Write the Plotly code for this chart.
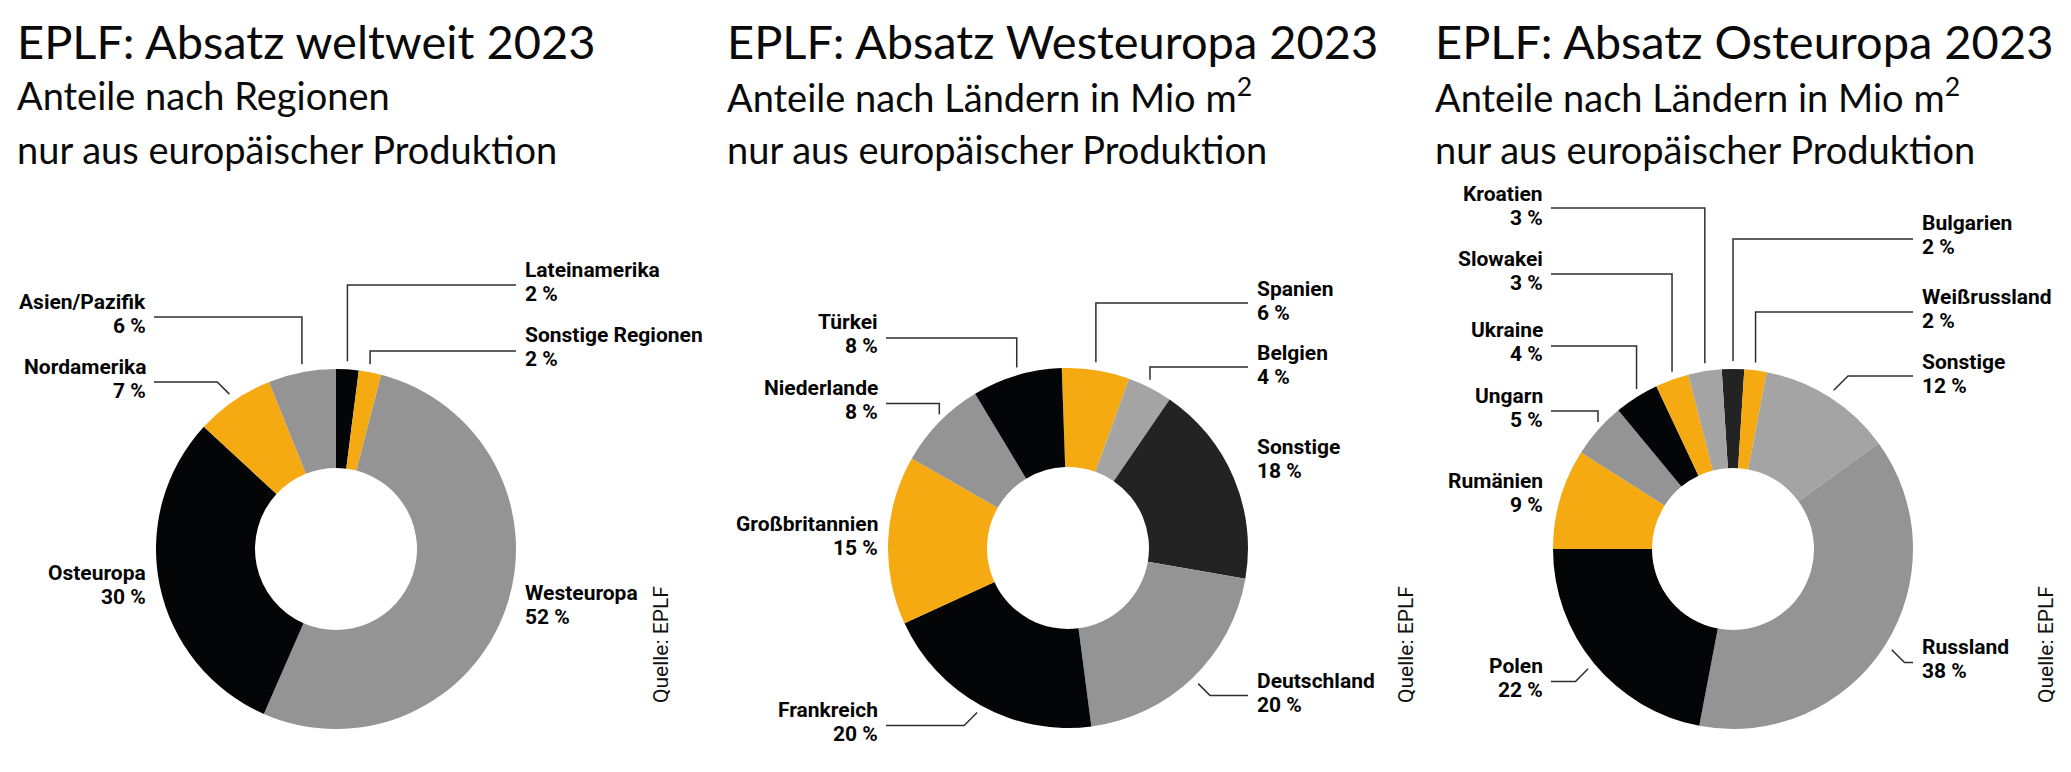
import math
import plotly.graph_objects as go

# page is drawn with the browser's default 8px body margin; compensate
PAGE_W, PAGE_H = 2071, 772
OFF = 8
W, H = PAGE_W - 2 * OFF, PAGE_H - 2 * OFF

# ---------------- data ----------------
world_labels = ["Lateinamerika", "Sonstige Regionen", "Westeuropa", "Osteuropa", "Nordamerika", "Asien/Pazifik"]
world_values = [2, 2, 52, 30, 7, 6]

west_labels = ["Spanien", "Belgien", "Sonstige", "Deutschland", "Frankreich", "Großbritannien", "Niederlande", "Türkei"]
west_values = [6, 4, 18, 20, 20, 15, 8, 8]

east_labels = ["Bulgarien", "Weißrussland", "Sonstige", "Russland", "Polen", "Rumänien", "Ungarn", "Ukraine", "Slowakei", "Kroatien"]
east_values = [2, 2, 12, 38, 22, 9, 5, 4, 3, 3]

titles = ["EPLF: Absatz weltweit 2023", "EPLF: Absatz Westeuropa 2023", "EPLF: Absatz Osteuropa 2023"]
subtitles_1 = ["Anteile nach Regionen", "Anteile nach Ländern in Mio m<sup>2</sup>", "Anteile nach Ländern in Mio m<sup>2</sup>"]
subtitle_2 = "nur aus europäischer Produktion"
source_text = "Quelle: EPLF"

# ---------------- styles ----------------
ORANGE = "#F5AA12"
BLACK = "#040507"
GRAY = "#949494"
LIGHT = "#A4A4A4"
CHAR = "#232323"
LINE = "#2e2e2e"

world_colors = [BLACK, ORANGE, GRAY, BLACK, ORANGE, GRAY]
west_colors = [ORANGE, LIGHT, CHAR, GRAY, BLACK, ORANGE, GRAY, BLACK]
east_colors = [CHAR, ORANGE, LIGHT, GRAY, BLACK, ORANGE, GRAY, BLACK, ORANGE, LIGHT]

TITLE_FONT = "Lato, 'Open Sans', sans-serif"
LABEL_FONT = "Roboto, 'Liberation Sans', sans-serif"

R = 180.0
HOLE = 0.45

# label layout: side, first-line baseline, leader y, leader kind
world_layout = {
    "Lateinamerika": ("R", 278, 285, "v"),
    "Sonstige Regionen": ("R", 343, 351, "v"),
    "Westeuropa": ("R", 601, None, None),
    "Osteuropa": ("L", 581, None, None),
    "Nordamerika": ("L", 375, 382, "d"),
    "Asien/Pazifik": ("L", 310, 317, "v"),
}
west_layout = {
    "Spanien": ("R", 297, 303, "v"),
    "Belgien": ("R", 361, 367, "v"),
    "Sonstige": ("R", 455, None, None),
    "Deutschland": ("R", 689, 695.5, "d"),
    "Frankreich": ("L", 718, 725.5, "d"),
    "Großbritannien": ("L", 532, None, None),
    "Niederlande": ("L", 396, 403.5, "v"),
    "Türkei": ("L", 330, 338, "v"),
}
east_layout = {
    "Bulgarien": ("R", 231, 239, "v"),
    "Weißrussland": ("R", 305, 312, "v"),
    "Sonstige": ("R", 370, 376, "d"),
    "Russland": ("R", 655, 662.5, "d"),
    "Polen": ("L", 674, 681.5, "d"),
    "Rumänien": ("L", 489, None, None),
    "Ungarn": ("L", 404, 411, "v"),
    "Ukraine": ("L", 338, 346, "v"),
    "Slowakei": ("L", 267, 274, "v"),
    "Kroatien": ("L", 202, 208, "v"),
}

charts = [
    dict(labels=world_labels, values=world_values, colors=world_colors, layout=world_layout,
         cx=336, cy=549, rot=0.0, title_x=15, source_x=661),
    dict(labels=west_labels, values=west_values, colors=west_colors, layout=west_layout,
         cx=1068, cy=548, rot=-2.0, title_x=725, source_x=1406),
    dict(labels=east_labels, values=east_values, colors=east_colors, layout=east_layout,
         cx=1733, cy=549, rot=-3.6, title_x=1433, source_x=2046),
]

def px(x):
    return (x - OFF) / W

def py(y):
    return 1 - (y - OFF) / H

fig = go.Figure()
annotations = []
shapes = []

LABEL_SIZE = 21
LINE_GAP = 23.5

for i, c in enumerate(charts):
    cx, cy = c["cx"], c["cy"]
    fig.add_trace(go.Pie(
        labels=c["labels"], values=c["values"],
        marker=dict(colors=c["colors"], line=dict(width=0)),
        hole=HOLE, sort=False, direction="clockwise", rotation=c["rot"],
        textinfo="none", hoverinfo="label+percent", showlegend=False,
        domain=dict(x=[px(cx - R), px(cx + R)], y=[py(cy + R), py(cy - R)]),
        name=titles[i],
    ))

    # titles
    for text, base, size in [(titles[i], 58, 47), (subtitles_1[i], 109, 38), (subtitle_2, 163, 38)]:
        annotations.append(dict(
            text=text, x=px(c["title_x"]), y=py(base - 0.36 * size), xref="paper", yref="paper",
            xanchor="left", yanchor="middle", showarrow=False,
            font=dict(family=TITLE_FONT, size=size, color="#0a0a0a"),
        ))

    # source
    annotations.append(dict(
        text=source_text, x=px(c["source_x"]), y=py(645), xref="paper", yref="paper",
        xanchor="center", yanchor="middle", showarrow=False, textangle=-90,
        font=dict(family=LABEL_FONT, size=21, color="#111111"),
    ))

    total = float(sum(c["values"]))
    cum = 0.0
    for lab, val in zip(c["labels"], c["values"]):
        mid = math.radians(c["rot"] + (cum + val / 2.0) / total * 360.0)
        cum += val
        side, base, ly, kind = c["layout"][lab]
        if side == "R":
            tx, anchor = cx + 187, "left"
            lx0 = cx + 180
        else:
            tx, anchor = cx - 188, "right"
            lx0 = cx - 182
        for j, t in enumerate([lab, f"{val} %"]):
            b = base + j * LINE_GAP
            annotations.append(dict(
                text=f"<b>{t}</b>", x=px(tx), y=py(b - 0.36 * LABEL_SIZE),
                xref="paper", yref="paper", xanchor=anchor, yanchor="middle",
                showarrow=False, font=dict(family=LABEL_FONT, size=LABEL_SIZE, color="#050505"),
            ))
        if kind is None:
            continue
        if kind == "v":
            ex = cx + R * math.sin(mid)
            ey = cy - R * math.cos(mid) - 8
            path = f"M {px(lx0)},{py(ly)} L {px(ex)},{py(ly)} L {px(ex)},{py(ey)}"
        else:
            ex = cx + (R + 8) * math.sin(mid)
            ey = cy - (R + 8) * math.cos(mid)
            sgn = 1 if side == "R" else -1
            bx = ex + sgn * abs(ly - ey)
            path = f"M {px(lx0)},{py(ly)} L {px(bx)},{py(ly)} L {px(ex)},{py(ey)}"
        shapes.append(dict(type="path", path=path, xref="paper", yref="paper",
                           line=dict(color=LINE, width=1.5)))

fig.update_layout(
    width=W, height=H,
    margin=dict(l=0, r=0, t=0, b=0),
    paper_bgcolor="white", plot_bgcolor="white",
    annotations=annotations, shapes=shapes,
)

fig.write_html("out.html")
